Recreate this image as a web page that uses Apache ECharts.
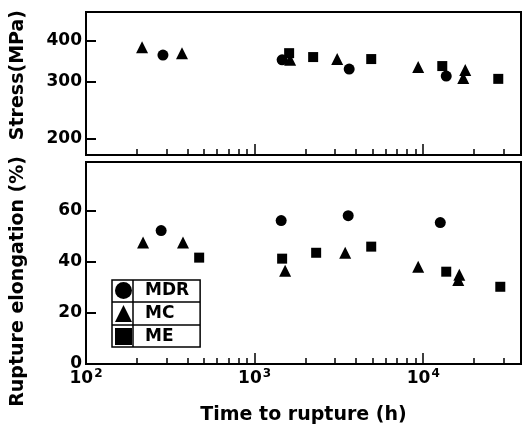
<!DOCTYPE html>
<html>
<head>
<meta charset="utf-8">
<script src="https://cdn.jsdelivr.net/npm/echarts@6/dist/echarts.min.js"></script>
<style>
html,body{margin:0;padding:0;background:#fff;}
#chart{width:523px;height:432px;}
</style>
</head>
<body>
<div id="chart"></div>
<script>
// ---- data ----
const seriesNames = ['MDR', 'MC', 'ME'];

// upper panel: stress (MPa) vs time to rupture (h)
const stressMDR_t = [286, 1456, 3637, 13690];
const stressMDR_v = [362, 350, 328, 312];
const stressMC_t  = [215, 371, 1624, 3088, 9337, 17750, 17270];
const stressMC_v  = [383, 367, 350, 352, 333, 326, 308];
const stressME_t  = [1602, 2224, 4915, 12970, 27860];
const stressME_v  = [367, 357, 352, 335, 306];

// lower panel: rupture elongation (%) vs time to rupture (h)
const elongMDR_t = [279, 1437, 3589, 12620];
const elongMDR_v = [52.2, 56.1, 58.0, 55.3];
const elongMC_t  = [218, 376, 1517, 3444, 9337, 16360, 16130];
const elongMC_v  = [47.5, 47.5, 36.5, 43.5, 38.0, 34.9, 32.9];
const elongME_t  = [469, 1456, 2317, 4915, 13690, 28640];
const elongME_v  = [41.6, 41.2, 43.5, 45.9, 36.1, 30.2];

// tick values
const xMajorTicks = [100, 1000, 10000];
const xMinorTicks = [200,300,400,500,600,700,800,900,2000,3000,4000,5000,6000,7000,8000,9000,20000,30000];
const stressTicks = [200, 300, 400];
const elongLabels = [0, 20, 40, 60];
const elongTicks = [20, 40, 60];

const zip = (a, b) => a.map((v, i) => [v, b[i]]);

const FONT = 'DejaVu Sans';
const lbl = {fontFamily: FONT, fontWeight: 'bold', fontSize: 17, color: '#000'};
const nameFont = {fontFamily: FONT, fontWeight: 'bold', fontSize: 19, color: '#000'};
const X_MIN = 100, X_MAX = 38000;

function xAxisPair(gridIndex, showLabels) {
  return [
    {
      type: 'log', gridIndex, position: 'bottom', min: X_MIN, max: X_MAX, logBase: 10,
      axisLine: {show: true, lineStyle: {color: '#000', width: 2}},
      axisTick: {show: true, inside: true, length: 11, customValues: xMajorTicks, lineStyle: {color: '#000', width: 1.5}},
      axisLabel: showLabels ? {
        show: true, margin: 4, customValues: xMajorTicks,
        formatter: v => '{b|10}{s|' + Math.round(Math.log10(v)) + '}',
        rich: {
          b: {fontFamily: FONT, fontWeight: 'bold', fontSize: 17, color: '#000'},
          s: {fontFamily: FONT, fontWeight: 'bold', fontSize: 12, color: '#000', padding: [0, 0, 10, 1]}
        }
      } : {show: false},
      splitLine: {show: false},
      name: showLabels ? 'Time to rupture (h)' : '',
      nameLocation: 'middle', nameGap: 42,
      nameTextStyle: Object.assign({}, nameFont)
    },
    {
      type: 'log', gridIndex, position: 'bottom', min: X_MIN, max: X_MAX, logBase: 10,
      axisLine: {show: false},
      axisTick: {show: true, inside: true, length: 6, customValues: xMinorTicks, lineStyle: {color: '#000', width: 1.5}},
      axisLabel: {show: false},
      splitLine: {show: false}
    }
  ];
}

function sc(name, xi, yi, data, symbol, size) {
  return {name, type: 'scatter', xAxisIndex: xi, yAxisIndex: yi, data, symbol, symbolSize: size,
    itemStyle: {color: '#000', opacity: 1}, emphasis: {disabled: true}};
}

const option = {
  backgroundColor: '#fff',
  animation: false,
  grid: [
    {left: 86, top: 12, width: 435, height: 143, show: true, borderColor: '#000', borderWidth: 2, backgroundColor: 'transparent'},
    {left: 86, top: 162, width: 435, height: 202, show: true, borderColor: '#000', borderWidth: 2, backgroundColor: 'transparent'}
  ],
  xAxis: [].concat(xAxisPair(0, false), xAxisPair(1, true)),
  yAxis: [
    {
      type: 'log', gridIndex: 0, min: 178.6, max: 491, logBase: 10,
      axisLine: {show: true, lineStyle: {color: '#000', width: 2}},
      axisTick: {show: true, inside: true, length: 10, customValues: stressTicks, lineStyle: {color: '#000', width: 2}},
      axisLabel: Object.assign({show: true, margin: 4, customValues: stressTicks}, lbl),
      splitLine: {show: false}
    },
    {
      type: 'value', gridIndex: 1, min: 0, max: 79,
      axisLine: {show: true, lineStyle: {color: '#000', width: 2}},
      axisTick: {show: true, inside: true, length: 10, customValues: elongTicks, lineStyle: {color: '#000', width: 2}},
      axisLabel: Object.assign({show: true, margin: 4, customValues: elongLabels}, lbl),
      splitLine: {show: false}
    }
  ],
  legend: {
    orient: 'vertical', left: 112, top: 280,
    data: seriesNames,
    itemWidth: 17, itemHeight: 17, itemGap: 6,
    padding: [2, 11, 2, 3],
    borderColor: '#000', borderWidth: 1.5, backgroundColor: '#fff',
    selectedMode: false,
    itemStyle: {opacity: 1},
    textStyle: Object.assign({padding: [0, 0, 0, 8]}, lbl)
  },
  graphic: [
    {type: 'line', shape: {x1: 133, y1: 280, x2: 133, y2: 347}, style: {stroke: '#000', lineWidth: 1.5}, z: 100},
    {type: 'line', shape: {x1: 112, y1: 302, x2: 200, y2: 302}, style: {stroke: '#000', lineWidth: 1.5}, z: 100},
    {type: 'line', shape: {x1: 112, y1: 325, x2: 200, y2: 325}, style: {stroke: '#000', lineWidth: 1.5}, z: 100},
    {type: 'text', left: 9, top: 10, rotation: Math.PI / 2,
      style: {text: 'Stress(MPa)', font: 'bold 19px "DejaVu Sans"', fill: '#000'}},
    {type: 'text', left: 9, top: 156, rotation: Math.PI / 2,
      style: {text: 'Rupture elongation (%)', font: 'bold 19px "DejaVu Sans"', fill: '#000'}}
  ],
  series: [
    sc('MDR', 0, 0, zip(stressMDR_t, stressMDR_v), 'circle', 11),
    sc('MC', 0, 0, zip(stressMC_t, stressMC_v), 'triangle', 12),
    sc('ME', 0, 0, zip(stressME_t, stressME_v), 'rect', 10),
    sc('MDR', 2, 1, zip(elongMDR_t, elongMDR_v), 'circle', 11),
    sc('MC', 2, 1, zip(elongMC_t, elongMC_v), 'triangle', 12),
    sc('ME', 2, 1, zip(elongME_t, elongME_v), 'rect', 10)
  ]
};

const chart = echarts.init(document.getElementById('chart'), null, {renderer: 'canvas'});
chart.setOption(option);
</script>
</body>
</html>
